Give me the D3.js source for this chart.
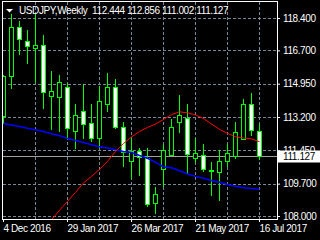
<!DOCTYPE html>
<html>
<head>
<meta charset="utf-8">
<script src="https://cdn.jsdelivr.net/npm/d3@7"></script>
<style>
body { margin: 0; background: #000; }
svg { display: block; }
text { font-family: "Liberation Sans", Arial, sans-serif; font-size: 10px; letter-spacing: -0.4px; }
</style>
</head>
<body>
<div id="chart"></div>
<script>
const symbol = "USDJPY,Weekly";

const weeks = ["2016-12-04","2016-12-11","2016-12-18","2016-12-25","2017-01-01","2017-01-08",
    "2017-01-15","2017-01-22","2017-01-29","2017-02-05","2017-02-12","2017-02-19","2017-02-26",
    "2017-03-05","2017-03-12","2017-03-19","2017-03-26","2017-04-02","2017-04-09","2017-04-16",
    "2017-04-23","2017-04-30","2017-05-07","2017-05-14","2017-05-21","2017-05-28","2017-06-04",
    "2017-06-11","2017-06-18","2017-06-25","2017-07-02","2017-07-09","2017-07-16"];

const open  = [113.24,115.36,117.93,117.21,116.83,116.98,114.31,114.26,114.75,112.46,113.54,112.86,112.11,
    113.86,114.75,112.69,110.88,111.41,111.06,108.68,110.49,111.20,112.95,113.16,111.06,111.20,110.42,
    110.33,110.88,111.15,112.06,113.86,112.444];
const high  = [115.40,118.61,118.22,117.79,118.66,117.52,115.64,115.39,114.97,113.86,114.94,113.86,114.82,
    115.52,115.22,112.93,112.11,111.59,111.59,109.52,111.80,113.07,114.38,113.86,112.11,111.76,110.82,
    111.46,111.80,112.95,114.15,114.47,112.856];
const low   = [112.86,114.73,116.51,116.02,115.02,113.68,112.55,112.49,112.05,111.59,112.11,111.93,111.59,
    113.54,112.60,110.62,110.01,110.15,108.53,108.18,109.57,111.18,112.40,110.28,110.85,110.36,109.10,
    108.84,110.62,111.06,112.02,112.23,111.002];
const close = [115.34,117.93,117.30,116.93,117.00,114.52,114.57,115.06,112.62,113.28,112.84,112.11,114.03,
    114.75,112.67,111.36,111.41,111.10,108.65,109.18,111.46,112.69,113.33,111.27,111.32,110.49,110.37,
    110.88,111.29,112.42,113.89,112.51,111.127];

// red moving average (starts below the visible range)
const maRed = [null,null,null,null,null,null,107.80,108.30,108.77,109.24,109.74,110.08,110.45,
    110.87,111.39,111.81,112.15,112.44,112.65,112.83,113.07,113.33,113.47,113.42,113.31,113.12,
    112.83,112.55,112.34,112.16,112.10,112.05,111.90];
// blue moving average
const maBlue = [112.86,112.78,112.70,112.61,112.53,112.44,112.32,112.22,112.07,111.97,111.86,111.74,
    111.64,111.57,111.48,111.39,111.34,111.18,111.03,110.82,110.59,110.53,110.38,110.21,110.08,
    109.98,109.86,109.77,109.65,109.56,109.49,109.44,109.40];

const priceTicks = [118.4, 116.7, 114.95, 113.2, 111.45, 109.7, 108.0];
const dateTicks = ["2016-12-04","2017-01-29","2017-03-26","2017-05-21","2017-07-16"];
const gridDates = ["2017-01-01","2017-01-29","2017-02-26","2017-03-26","2017-04-23","2017-05-21","2017-06-18","2017-07-16"];

const parse = d3.utcParse("%Y-%m-%d");
const W = 320, H = 240;
const pLeft = 2, pRight = 277, pTop = 1, pBottom = 219;

const x = d3.scaleUtc().domain([parse(weeks[0]), parse(weeks[weeks.length - 1])]).range([3, 259]);
const y = d3.scaleLinear().domain([108.0, 118.4]).range([216, 18]);

const svg = d3.select("#chart").append("svg").attr("width", W).attr("height", H);

svg.append("defs").append("clipPath").attr("id", "plot")
    .append("rect").attr("x", pLeft + 1).attr("y", pTop + 1)
    .attr("width", pRight - pLeft - 1).attr("height", pBottom - pTop - 1);

// grid
const grid = svg.append("g").attr("stroke", "#778899").attr("stroke-dasharray", "3,2");
grid.selectAll("line.v").data(gridDates).join("line").attr("class", "v")
    .attr("x1", d => x(parse(d)) + 0.5).attr("x2", d => x(parse(d)) + 0.5)
    .attr("y1", pTop + 1).attr("y2", pBottom);
grid.selectAll("line.h").data(priceTicks).join("line").attr("class", "h")
    .attr("x1", pLeft + 1).attr("x2", pRight)
    .attr("y1", d => Math.round(y(d)) + 0.5).attr("y2", d => Math.round(y(d)) + 0.5);

const plot = svg.append("g").attr("clip-path", "url(#plot)");

// current price line
const last = close[close.length - 1];
plot.append("line")
    .attr("x1", pLeft + 1).attr("x2", pRight)
    .attr("y1", Math.round(y(last)) + 0.5).attr("y2", Math.round(y(last)) + 0.5)
    .attr("stroke", "#a0a0a0");

// candles
const bars = weeks.map((w, i) => ({ date: parse(w), o: open[i], h: high[i], l: low[i], c: close[i] }));
const candle = plot.selectAll("g.candle").data(bars).join("g").attr("class", "candle");
candle.append("line")
    .attr("x1", d => x(d.date) + 0.5).attr("x2", d => x(d.date) + 0.5)
    .attr("y1", d => Math.round(y(d.h))).attr("y2", d => Math.round(y(d.l)) + 1)
    .attr("stroke", "#00ff00");
candle.append("rect")
    .attr("x", d => x(d.date) - 1.5)
    .attr("y", d => Math.round(y(Math.max(d.o, d.c))) + 0.5)
    .attr("width", 4)
    .attr("height", d => Math.max(1, Math.round(y(Math.min(d.o, d.c))) - Math.round(y(Math.max(d.o, d.c)))))
    .attr("fill", d => d.c >= d.o ? "#000" : "#fff")
    .attr("stroke", "#00ff00");

// moving averages
const line = d3.line().defined(d => d.v != null).x(d => x(d.date) + 0.5).y(d => y(d.v));
plot.append("path")
    .attr("d", line(bars.map((b, i) => ({ date: b.date, v: maBlue[i] }))))
    .attr("fill", "none").attr("stroke", "#0000ff").attr("stroke-width", 1.5);
plot.append("path")
    .attr("d", line(bars.map((b, i) => ({ date: b.date, v: maRed[i] }))))
    .attr("fill", "none").attr("stroke", "#ff0000").attr("stroke-width", 1);

// frame
svg.append("rect")
    .attr("x", pLeft + 0.5).attr("y", pTop + 0.5)
    .attr("width", pRight - pLeft).attr("height", pBottom - pTop)
    .attr("fill", "none").attr("stroke", "#fff");

// axes
const yAxis = svg.append("g").attr("transform", `translate(${pRight},0)`)
    .call(d3.axisRight(y).tickValues(priceTicks).tickFormat(d3.format(".3f")).tickSize(3).tickPadding(3));
const xAxis = svg.append("g").attr("transform", `translate(0,${pBottom})`)
    .call(d3.axisBottom(x).tickValues(dateTicks.map(parse)).tickFormat(d3.utcFormat("%-d %b %Y")).tickSize(3).tickPadding(3));
[yAxis, xAxis].forEach(a => {
    a.attr("font-family", null).attr("font-size", null);
    a.select(".domain").remove();
    a.selectAll("line").attr("stroke", "#fff");
    a.selectAll("text").attr("fill", "#fff");
});
xAxis.selectAll("text").attr("text-anchor", "start").attr("x", 0);

// current price label (covers the nearby grid label, as in the terminal)
const ly = Math.round(y(last)) + 0.5;
svg.append("rect").attr("x", pRight + 1).attr("y", ly - 6).attr("width", W - pRight).attr("height", 12).attr("fill", "#fff");
svg.append("text").attr("x", pRight + 6).attr("y", ly + 3.5).attr("fill", "#000").text(d3.format(".3f")(last));

// header
svg.append("path").attr("d", "M6,9L13,9L9.5,12.5Z").attr("fill", "#fff");
const fmt = d3.format(".3f");
svg.append("text").attr("x", 19).attr("y", 14).attr("fill", "#fff")
    .attr("xml:space", "preserve")
    .text(`${symbol}  ${fmt(open[open.length - 1])} ${fmt(high[high.length - 1])} ${fmt(low[low.length - 1])} ${fmt(last)}`);
</script>
</body>
</html>
